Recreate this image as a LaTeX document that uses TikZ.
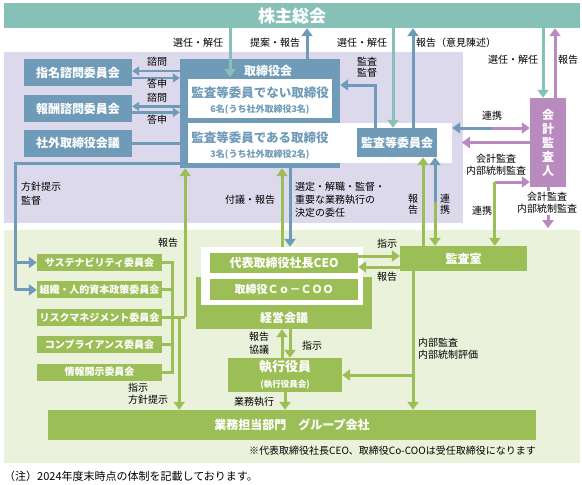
\documentclass[tikz,border=0pt]{standalone}
\usepackage{fontspec}
\setmainfont{Noto Sans CJK JP}
\usetikzlibrary{arrows.meta,positioning,calc}
\definecolor{kteal}{RGB}{134,192,182}
\definecolor{ksteel}{RGB}{111,155,185}
\definecolor{kgreen}{RGB}{156,190,86}
\definecolor{kpurple}{RGB}{185,138,190}
\definecolor{klav}{RGB}{221,217,236}
\definecolor{klgreen}{RGB}{234,242,219}

\begin{document}
\begin{tikzpicture}[x=1pt, y=-1pt,
    bbox/.style={fill=ksteel, text=white, inner sep=0pt, font=\fontsize{12}{14}\selectfont\bfseries},
    gbox/.style={fill=kgreen, text=white, inner sep=0pt, font=\fontsize{10}{12}\selectfont\bfseries},
    wbox/.style={fill=white, inner sep=0pt},
    cbox/.style={gbox, minimum width=125pt, minimum height=17pt},
    lbl/.style={inner sep=0pt, align=center, font=\fontsize{10}{12}\selectfont},
    ln/.style={line width=3pt},
    ba/.style={ln, ksteel, -{Triangle[width=11pt,length=8pt]}},
    ta/.style={ln, kteal, -{Triangle[width=11pt,length=8pt]}},
    ga/.style={ln, kgreen, -{Triangle[width=11pt,length=8pt]}},
    pa/.style={ln, kpurple, -{Triangle[width=11pt,length=8pt]}},
    sa/.style={line width=2.2pt, ksteel, -{Triangle[width=9pt,length=7pt]}}
  ]
  \useasboundingbox (0,0) rectangle (582,485);
  % 背景
  \fill[klav] (4,52) rectangle (463,223);
  \fill[klgreen] (4,230) rectangle (580,463);

  % 株主総会
  \node[fill=kteal, text=white, minimum width=576pt, minimum height=25pt, inner sep=0pt,
        font=\fontsize{17}{17}\selectfont\bfseries] (kabu) at (292,15.5) {株主総会};

  % 取締役会
  \node[fill=ksteel, minimum width=160pt, minimum height=109pt, inner sep=0pt] (board) at (260,113.5) {};
  \node[bbox] (boardt) at (268,70.5) {取締役会};
  \node[wbox, minimum width=144pt, minimum height=39pt] (nonaud) at (260,98.5) {};
  \node[wbox, minimum width=264pt, minimum height=40pt] (audw) at (320,143) {};
  \node[lbl, text=ksteel, font=\fontsize{12.5}{15}\selectfont\bfseries] (nonaudt) at (260,100.5)
    {監査等委員でない取締役\\{\fontsize{9}{11}\selectfont 6名(うち社外取締役3名)}};
  \node[lbl, text=ksteel, font=\fontsize{12.5}{15}\selectfont\bfseries] (audt) at (260,145.5)
    {監査等委員である取締役\\{\fontsize{9}{11}\selectfont 3名(うち社外取締役2名)}};
  \node[bbox, minimum width=80pt, minimum height=29pt] (kansa) at (397,142.5) {監査等委員会};
  \node[fill=kpurple, text=white, minimum width=36pt, minimum height=89pt, inner sep=0pt, align=center,
        font=\fontsize{12}{14}\selectfont\bfseries] (kaikei) at (548,142.5) {会\\計\\監\\査\\人};

  % 左の委員会
  \node[bbox, minimum width=108pt, minimum height=27pt] (shimei) at (78,72.5) {指名諮問委員会};
  \node[bbox, minimum width=108pt, minimum height=27pt, below=9pt of shimei] (hoshu) {報酬諮問委員会};
  \node[bbox, minimum width=108pt, minimum height=27pt, below=7pt of hoshu] (shagai) {社外取締役会議};

  % 執行側
  \node[cbox] (c1) at (99.5,262.5) {サステナビリティ委員会};
  \node[cbox, below=10pt of c1] (c2) {組織・人的資本政策委員会};
  \node[cbox, below=10pt of c2] (c3) {リスクマネジメント委員会};
  \node[cbox, below=10pt of c3] (c4) {コンプライアンス委員会};
  \node[cbox, below=10pt of c4] (c5) {情報開示委員会};

  \node[gbox, minimum width=176pt, minimum height=52pt] (keiei) at (284,303) {};
  \node[wbox, minimum width=162pt, minimum height=58pt] (cframe) at (282,276) {};
  \node[gbox, minimum width=148pt, minimum height=20pt, font=\fontsize{12}{14}\selectfont\bfseries] (ceo) at (284,263) {代表取締役社長CEO};
  \node[gbox, minimum width=148pt, minimum height=21pt, font=\fontsize{11}{13}\selectfont\bfseries] (coo) at (284,289.5) {取締役Ｃｏ－ＣＯＯ};
  \node[lbl, text=white, font=\fontsize{12}{14}\selectfont\bfseries] (keieit) at (284,318) {経営会議};
  \node[gbox, minimum width=127pt, minimum height=25pt, font=\fontsize{12}{14}\selectfont\bfseries] (shitsu) at (463.5,258.5) {監査室};
  \node[gbox, minimum width=114pt, minimum height=34pt, align=center, font=\fontsize{13}{16}\selectfont\bfseries] (shikko) at (285,375)
    {執行役員\\{\fontsize{8.5}{10}\selectfont (執行役員会)}};
  \node[gbox, minimum width=488pt, minimum height=30pt, font=\fontsize{12}{14}\selectfont\bfseries] (gyomu) at (292,425) {業務担当部門　グループ会社};

  % 株主総会との矢印
  \coordinate (t1) at (230,77);
  \draw[ta] (kabu.south -| t1) -- (t1);
  \coordinate (t2) at ([xshift=47pt]board.north);
  \draw[ba] (t2) -- (t2 |- kabu.south);
  \coordinate (t3) at ([xshift=-4pt]kansa.north);
  \draw[ta] (t3 |- kabu.south) -- (t3);
  \coordinate (t4) at ([xshift=16pt]kansa.north);
  \draw[ba] (t4) -- (t4 |- kabu.south);
  \coordinate (t5) at ([xshift=-5pt]kaikei.north);
  \draw[ta] (t5 |- kabu.south) -- (t5);
  \coordinate (t6) at ([xshift=7pt]kaikei.north);
  \draw[pa] (t6) -- (t6 |- kabu.south);

  % 監査・監督
  \coordinate (v1) at ([xshift=-22pt]kansa.north);
  \coordinate (v2) at ([yshift=28.5pt]board.east);
  \draw[ba] (v1) |- (v2);

  % 会計監査人まわり
  \coordinate (r0) at ([yshift=14.5pt]kaikei.west);
  \coordinate (r1) at ([xshift=-38pt]r0);
  \draw[ba] (r1) -- (r0 -| audw.east);
  \draw[pa] (r1) -- (r0);
  \coordinate (r2) at ([xshift=-68pt]kaikei.west);
  \draw[pa] (kaikei.west) -- (r2);
  \coordinate (r3) at ([yshift=-39.5pt]kaikei.west);
  \coordinate (r4) at ([xshift=-35pt]r3);
  \draw[pa] (r4) -- (r3);
  \draw[ga] (r4) -- (r4 |- shitsu.north);
  \coordinate (r5) at ([yshift=-41pt]kaikei.south);
  \draw[pa] (kaikei.south) -- (r5);

  % 諮問・答申
  \coordinate (s1) at ([yshift=1.5pt]shimei.east);
  \coordinate (s2) at ([yshift=-5.5pt]shimei.east);
  \draw[sa] (s1 -| board.west) -- (s1);
  \draw[sa] (s2) -- (s2 -| board.west);
  \coordinate (s3) at ([yshift=2.5pt]hoshu.east);
  \coordinate (s4) at ([yshift=-3.5pt]hoshu.east);
  \draw[sa] (s3 -| board.west) -- (s3);
  \draw[sa] (s4) -- (s4 -| board.west);
  \draw[ln, ksteel] (shagai.east) -- (shagai.east -| board.west);

  % 方針提示・監督
  \coordinate (h0) at ([yshift=-49.5pt]board.west);
  \coordinate (h1) at (15,163);
  \draw[ln, ksteel] (h0) -- (h1) -- (h1 |- c2.west);
  \draw[ba] (h1 |- c1.west) -- (c1.west);
  \draw[ba] (h1 |- c2.west) -- (c2.west);

  % 取締役会と執行側
  \draw[ga] (cframe.north) -- (cframe.north |- board.south);
  \coordinate (d1) at ([xshift=30pt]board.south);
  \draw[ba] (d1) -- (d1 |- cframe.north);

  % 委員会の線
  \coordinate (bt) at ([xshift=10pt]c1.east);
  \coordinate (bb) at ([xshift=10pt]c5.east);
  \draw[ln, kgreen] (c1.east) -- (bt) -- (bb) -- (c5.east);
  \foreach \c in {c2,c3,c4} \draw[ln, kgreen] (\c.east) -- (\c.east -| bt);
  \coordinate (m1) at ([xshift=23pt]c3.east);
  \coordinate (m2) at ([xshift=17pt]c3.east);
  \draw[ln, kgreen] (c3.east) -- (m1);
  \draw[ga] (m1) -- (m1 |- board.south);
  \draw[ga] (m2) -- (m2 |- gyomu.north);

  % CEO と監査室
  \coordinate (e1) at ([yshift=7pt]ceo.east);
  \coordinate (e2) at ([yshift=-4pt]ceo.east);
  \draw[ga] (e1) -- (e1 -| shitsu.west);
  \draw[ga] (e2 -| shitsu.west) -- (e2);

  % 監査等委員会と監査室
  \coordinate (k1) at ([xshift=-40.5pt]shitsu.north);
  \draw[ga] (k1) -- (k1 |- kansa.south);
  \coordinate (k2) at ([xshift=-28.5pt,yshift=44pt]shitsu.north);
  \draw[ba] (k2) -- (k2 |- kansa.south);
  \draw[ga] (k2) -- (k2 |- shitsu.north);
  \coordinate (k3) at ([xshift=-50.5pt]shitsu.south);
  \draw[ga] (k3) -- (k3 |- gyomu.north);
  \draw[ga] (k3 |- shikko.east) -- (shikko.east);

  % 経営会議と執行役員
  \coordinate (x1) at ([xshift=-3pt]shikko.north);
  \coordinate (x2) at ([xshift=5pt]shikko.north);
  \draw[ga] (x1) -- (x1 |- keiei.south);
  \draw[ga] (x2 |- keiei.south) -- (x2);
  \draw[ga] (shikko.south) -- (shikko.south |- gyomu.north);

  % ラベル
  \node[lbl] (l1) at (198,42.5) {選任・解任};
  \node[lbl] (l2) at (275,42.5) {提案・報告};
  \node[lbl] (l3) at (362,42.5) {選任・解任};
  \node[lbl] (l4) at (456,42.5) {報告（意見陳述）};
  \node[lbl] (l5) at (513,60) {選任・解任};
  \node[lbl] (l6) at (568,60) {報告};
  \node[lbl, font=\fontsize{10}{11}\selectfont] (l7) at (367,67.5) {監査\\監督};
  \node[lbl] (l8) at (157,62) {諮問};
  \node[lbl] (l9) at (157,84) {答申};
  \node[lbl] (l10) at (157,98) {諮問};
  \node[lbl] (l11) at (157,120) {答申};
  \node[lbl] (l12) at (492,116) {連携};
  \node[lbl, font=\fontsize{10}{12}\selectfont] (l13) at (496,165) {会計監査\\内部統制監査};
  \node[lbl, fill=white, inner sep=1pt, font=\fontsize{10}{12}\selectfont] (l14) at (547,203) {会計監査\\内部統制監査};
  \node[lbl] (l15) at (482,211) {連携};
  \node[lbl, font=\fontsize{10}{10.5}\selectfont] (l16) at (413,204) {報\\告};
  \node[lbl, font=\fontsize{10}{10.5}\selectfont] (l17) at (445,204) {連\\携};
  \node[lbl] (l18) at (250,200) {付議・報告};
  \node[lbl, anchor=north west, align=left, font=\fontsize{10}{13}\selectfont] (l19) at (295,182)
    {選定・解職・監督・\\重要な業務執行の\\決定の委任};
  \node[lbl, anchor=north west, align=left, font=\fontsize{10}{14}\selectfont] (l20) at (21,182) {方針提示\\監督};
  \node[lbl] (l21) at (168,243) {報告};
  \node[lbl] (l22) at (387,244) {指示};
  \node[lbl] (l23) at (387,277) {報告};
  \node[lbl, font=\fontsize{10}{13}\selectfont] (l24) at (259,343) {報告\\協議};
  \node[lbl] (l25) at (312,346) {指示};
  \node[lbl, anchor=north west, align=left, font=\fontsize{10}{12}\selectfont] (l26) at (418,338) {内部監査\\内部統制評価};
  \node[lbl, anchor=north west, align=left, font=\fontsize{10}{12}\selectfont] (l27) at (128,383) {指示\\方針提示};
  \node[lbl] (l28) at (254,402) {業務執行};
  \node[lbl, anchor=east] (note1) at (536,451) {※代表取締役社長CEO、取締役Co-COOは受任取締役になります};
  \node[lbl, anchor=west, font=\fontsize{11}{13}\selectfont] (note2) at (4,476) {（注）2024年度末時点の体制を記載しております。};
\end{tikzpicture}
\end{document}
